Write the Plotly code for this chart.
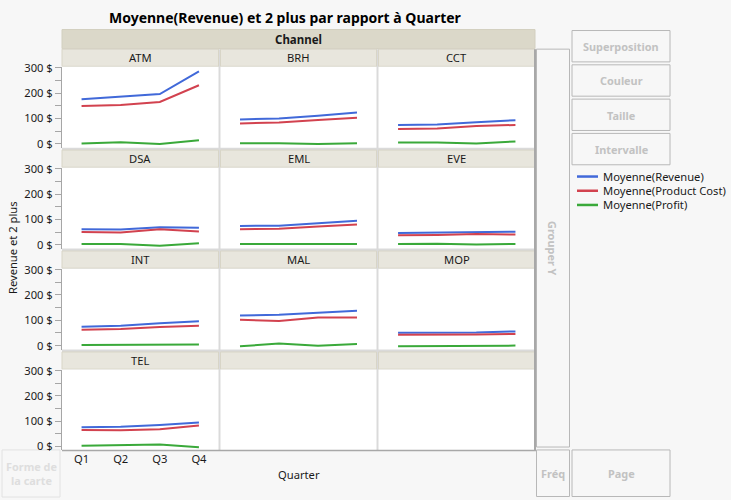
import plotly.graph_objects as go

# ---------------- data ----------------
quarters = ["Q1", "Q2", "Q3", "Q4"]
channels = ["ATM", "BRH", "CCT", "DSA", "EML", "EVE", "INT", "MAL", "MOP", "TEL"]

revenue = [
    [176, 185, 196, 286],   # ATM
    [96, 100, 110, 123],    # BRH
    [74, 76, 85, 93],       # CCT
    [61, 60, 69, 67],       # DSA
    [74, 75, 85, 94],       # EML
    [46, 48, 50, 51],       # EVE
    [74, 78, 88, 96],       # INT
    [119, 122, 130, 138],   # MAL
    [51, 51, 52, 56],       # MOP
    [76, 78, 85, 95],       # TEL
]
product_cost = [
    [149, 153, 165, 231],
    [80, 84, 94, 103],
    [58, 60, 70, 74],
    [50, 48, 61, 52],
    [61, 63, 72, 80],
    [37, 38, 42, 40],
    [63, 66, 73, 78],
    [102, 97, 111, 111],
    [43, 43, 44, 46],
    [65, 64, 68, 83],
]
profit = [
    [1, 6, -1, 14],
    [2, 2, -1, 2],
    [5, 5, 1, 9],
    [3, 3, -4, 6],
    [3, 3, 3, 3],
    [3, 4, 1, 3],
    [2, 2, 2, 4],
    [-3, 8, -1, 6],
    [-3, -2, 0, 0],
    [3, 6, 8, -3],
]
series_names = ["Moyenne(Revenue)", "Moyenne(Product Cost)", "Moyenne(Profit)"]
series_colors = ["#4169d9", "#d2424f", "#3aa93a"]
y_tick_vals = [0, 50, 100, 150, 200, 250, 300]
y_tick_text = ["0 $", "", "100 $", "", "200 $", "", "300 $"]

# ---------------- layout helpers ----------------
W, H = 731, 500
FONT = "Noto Sans"
TXT = "#1a1a1a"
FS = 11.2


def fx(px):
    return px / W


def fy(py):
    return 1 - py / H


shapes = []
annotations = []


def rect(x0, y0, x1, y1, fill=None, line=None, lw=1, layer="below"):
    shapes.append(dict(type="rect", xref="paper", yref="paper",
                       x0=fx(x0), x1=fx(x1), y0=fy(y1), y1=fy(y0),
                       fillcolor=fill or "rgba(0,0,0,0)",
                       line=dict(color=line or "rgba(0,0,0,0)", width=lw if line else 0),
                       layer=layer))


def line(x0, y0, x1, y1, color, width=1, layer="below"):
    shapes.append(dict(type="line", xref="paper", yref="paper",
                       x0=fx(x0), x1=fx(x1), y0=fy(y0), y1=fy(y1),
                       line=dict(color=color, width=width), layer=layer))


def text(x, y, s, size=FS, color=TXT, bold=False, xanchor="center", yanchor="middle", angle=0):
    annotations.append(dict(xref="paper", yref="paper", x=fx(x), y=fy(y),
                            text=("<b>%s</b>" % s) if bold else s, showarrow=False,
                            xanchor=xanchor, yanchor=yanchor, textangle=angle,
                            font=dict(family=FONT, size=size, color=color)))


col_x = [(62, 218.5), (220.5, 376.5), (378.5, 535)]
ROW_TOP0 = 43
PITCH = 103
HEADER_H = 18
PLOT_H = 82.5
GRID_L, GRID_R = 62, 535
GRID_T, GRID_B = 43, ROW_TOP0 + 3 * PITCH + HEADER_H + PLOT_H

fig = go.Figure()

# grid background (separators)
rect(GRID_L, GRID_T, GRID_R, GRID_B, fill="#dadada")

# Channel header
rect(GRID_L, 23, GRID_R, 42.5, fill="#dbd8c9", line="#d2cfbf")
text((GRID_L + GRID_R) / 2, 33, "Channel", size=11.5, bold=True)

layout_axes = {}
for p in range(12):
    r, c = divmod(p, 3)
    x0, x1 = col_x[c]
    htop = ROW_TOP0 + r * PITCH
    ptop = htop + HEADER_H
    pbot = ptop + PLOT_H
    rect(x0, htop, x1, ptop - 0.5, fill="#e8e6dd", line="#d8d5c7")
    if p < len(channels):
        text((x0 + x1) / 2, htop + HEADER_H / 2, channels[p])
    rect(x0, ptop, x1, pbot, fill="#ffffff")

    suffix = "" if p == 0 else str(p + 1)
    layout_axes["xaxis" + suffix] = dict(
        domain=[fx(x0), fx(x1)], anchor="y" + suffix, type="category",
        categoryorder="array", categoryarray=quarters, range=[-0.5, 3.5],
        showgrid=False, zeroline=False, showline=False, ticks="",
        showticklabels=(r == 3), tickfont=dict(family=FONT, size=FS, color=TXT),
        fixedrange=True)
    ydict = dict(
        domain=[fy(pbot), fy(ptop)], anchor="x" + suffix, range=[-15.5, 304],
        showgrid=False, zeroline=False, fixedrange=True,
        tickmode="array", tickvals=y_tick_vals, ticktext=y_tick_text,
        showticklabels=(c == 0), tickfont=dict(family=FONT, size=FS, color=TXT))
    if c == 0:
        ydict.update(showline=True, linecolor="#a6a6a6", linewidth=1,
                     ticks="outside", ticklen=6, tickcolor="#a6a6a6", tickwidth=1)
    else:
        ydict.update(showline=False, ticks="")
    layout_axes["yaxis" + suffix] = ydict

    if p < len(channels):
        for s, values in enumerate([revenue, product_cost, profit]):
            fig.add_trace(go.Scatter(
                x=quarters, y=values[p], mode="lines",
                line=dict(color=series_colors[s], width=2),
                name=series_names[s], showlegend=False,
                xaxis="x" + suffix, yaxis="y" + suffix, hoverinfo="skip"))

line(GRID_R, GRID_T, GRID_R, GRID_B, "#a8a8a8", 2, layer="above")
line(GRID_L, GRID_B, GRID_R + 1, GRID_B, "#a8a8a8", 1.5, layer="above")

text((GRID_L + GRID_R) / 2, 477, "Quarter")
text(12, 246, "Revenue et 2 plus", angle=-90)

text(285, 11, "Moyenne(Revenue) et 2 plus par rapport à Quarter", size=14, bold=True, color="#000000")

BTN_LINE = "#b8b8b8"
BTN_TXT = "#c2c2c2"
BFS = 10.9
for label, top in [("Superposition", 24), ("Couleur", 59), ("Taille", 94), ("Intervalle", 129)]:
    rect(572, top, 670, top + 32, fill="#f7f7f7", line=BTN_LINE)
    text(621, top + 16.5, label, size=BFS, bold=True, color=BTN_TXT)

rect(536.5, 43, 569.5, 449, fill="#f7f7f7", line=BTN_LINE)
text(553, 246, "Grouper Y", size=BFS, bold=True, color=BTN_TXT, angle=90)

rect(536.5, 452, 569.5, 499.5, fill="#f7f7f7", line=BTN_LINE)
text(553, 476, "Fréq", size=BFS, bold=True, color=BTN_TXT)
rect(572, 452, 670, 499.5, fill="#f7f7f7", line=BTN_LINE)
text(621, 476, "Page", size=BFS, bold=True, color=BTN_TXT)

rect(2, 452, 60, 500, fill="#f7f7f7", line="#e2e2e2")
text(31, 476, "Forme de<br>la carte", size=BFS, bold=True, color="#dedede")

for s, name in enumerate(series_names):
    yy = 173 + s * 14.5
    line(577, yy, 598, yy, series_colors[s], 2.5, layer="above")
    text(601, yy, name, xanchor="left")

fig.update_layout(
    width=W, height=H, margin=dict(l=0, r=0, t=0, b=0),
    paper_bgcolor="#f7f7f7", plot_bgcolor="rgba(0,0,0,0)",
    showlegend=False, shapes=shapes, annotations=annotations,
    font=dict(family=FONT, size=FS, color=TXT),
    **layout_axes)

post = (
    "document.documentElement.style.margin='0';"
    "document.documentElement.style.padding='0';"
    "document.documentElement.style.overflow='hidden';"
    "document.documentElement.style.background='#f7f7f7';"
    "document.body.style.margin='0';document.body.style.padding='0';"
    "document.body.style.overflow='hidden';"
    "var gd=document.getElementById('{plot_id}');"
    "gd.style.position='absolute';gd.style.top='0px';gd.style.left='0px';"
)
fig.write_html("out.html", config={"displayModeBar": False}, post_script=post)
